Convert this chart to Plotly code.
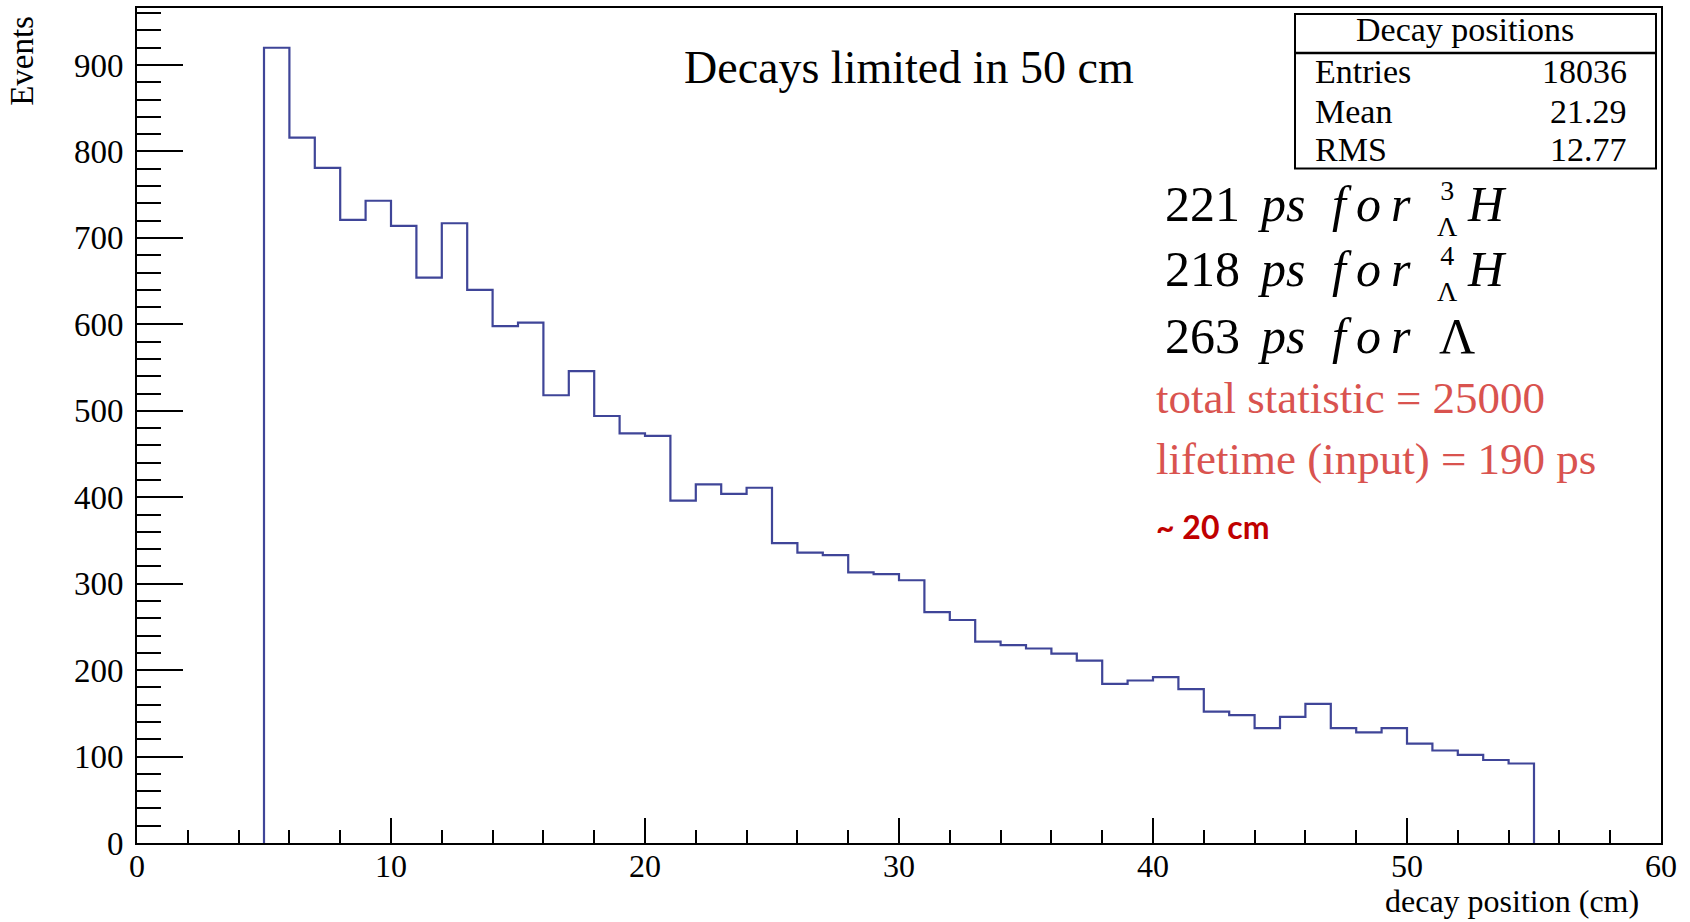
import plotly.graph_objects as go

# ---------------- data ----------------
bin_low = list(range(5, 55))          # bin lower edges (cm), width 1
bin_width = 1
counts = [920, 816, 781, 721, 743, 714, 654, 717, 640, 598,
          602, 518, 546, 494, 474, 471, 396, 415, 404, 411,
          347, 336, 333, 313, 311, 304, 267, 258, 233, 229,
          225, 219, 211, 184, 188, 192, 178, 152, 148, 133,
          146, 161, 133, 128, 133, 115, 107, 102, 96, 92]

stats_title = "Decay positions"
stats_labels = ["Entries", "Mean", "RMS"]
stats_values = ["18036", "21.29", "12.77"]

x_ticks = [0, 10, 20, 30, 40, 50, 60]
y_ticks = [0, 100, 200, 300, 400, 500, 600, 700, 800, 900]

# ---------------- geometry helpers ----------------
W, H = 1690, 922
L, R, T, B = 137, 1661, 6, 843


def px(x):
    return (x - L) / (R - L)


def py(y):
    return (B - y) / (B - T)


# step outline of the histogram built from the bins
xs = [bin_low[0]] + bin_low + [bin_low[-1] + bin_width, bin_low[-1] + bin_width]
ys = [0] + counts + [counts[-1], 0]

fig = go.Figure()
fig.add_trace(go.Scatter(x=xs, y=ys, mode="lines", line=dict(shape="hv", color="#3f4598", width=2.2),
                         hoverinfo="skip", showlegend=False))

SERIF = "Liberation Serif"

fig.update_layout(
    width=W, height=H,
    margin=dict(l=L, r=W - R, t=T, b=H - B, pad=0),
    paper_bgcolor="white", plot_bgcolor="white",
    font=dict(family=SERIF, color="black"),
    xaxis=dict(range=[0, 60], tickvals=x_ticks, ticks="inside", ticklen=25, tickwidth=2, tickcolor="black",
               minor=dict(dtick=2, ticks="inside", ticklen=13, tickwidth=2, tickcolor="black"),
               showline=True, linewidth=2, linecolor="black", mirror=True, showgrid=False, zeroline=False,
               tickfont=dict(size=32, family=SERIF), ticklabelstandoff=-6),
    yaxis=dict(range=[0, 966], tickvals=y_ticks, ticks="inside", ticklen=46, tickwidth=2, tickcolor="black",
               minor=dict(dtick=20, ticks="inside", ticklen=24, tickwidth=2, tickcolor="black"),
               showline=True, linewidth=2, linecolor="black", mirror=True, showgrid=False, zeroline=False,
               tickfont=dict(size=33, family=SERIF), ticklabelstandoff=5),
)

ann = []


def text(x, y, s, size, color="black", xanchor="left", family=SERIF, angle=0, yanchor="middle"):
    ann.append(dict(x=px(x), y=py(y), xref="paper", yref="paper", text=s, showarrow=False,
                    xanchor=xanchor, yanchor=yanchor, textangle=angle,
                    font=dict(size=size, color=color, family=family)))


# axis titles
text(22, 59, "Events", 33, xanchor="center", angle=-90)
text(1641, 901, "decay position (cm)", 32, xanchor="right")

# title
text(909, 66, "Decays limited in 50 cm", 46, xanchor="center")

# stats box
fig.add_shape(type="rect", xref="paper", yref="paper", x0=px(1295), x1=px(1656), y0=py(12), y1=py(167),
              line=dict(color="black", width=2), fillcolor="white", layer="above")
fig.add_shape(type="line", xref="paper", yref="paper", x0=px(1295), x1=px(1656), y0=py(51), y1=py(51),
              line=dict(color="black", width=2.5), layer="above")
text(1465, 28, stats_title, 34, xanchor="center")
for i, (lab, val) in enumerate(zip(stats_labels, stats_values)):
    yc = [70, 109.5, 148][i]
    text(1313, yc, lab, 34, xanchor="left")
    text(1629, yc, val, 34, xanchor="right")

# lifetime lines (math style)
rows = [("221", "3", 202), ("218", "4", 267.5), ("263", None, 335)]
for num, sup, yc in rows:
    text(1163, yc, num, 50)
    text(1256, yc, "<i>ps</i>", 50)
    text(1330, yc, "<i>f\u2009o\u2009r</i>", 50)
    if sup is not None:
        text(1447, yc + 5, sup + "<br>Λ", 28, xanchor="center")
        text(1465, yc, "<i>H</i>", 50)
    else:
        text(1437, yc, "Λ", 50)

# red notes
text(1154, 397, "total statistic = 25000", 45, color="#d9534f")
text(1154, 458, "lifetime (input) = 190 ps", 45, color="#d9534f")
text(1154, 526, "<b>~ 20 cm</b>", 32, color="#c00000", family="Lato")

fig.update_layout(annotations=ann)
fig.write_html("out.html", config={"displayModeBar": False},
               post_script="document.body.style.margin='0px';")
